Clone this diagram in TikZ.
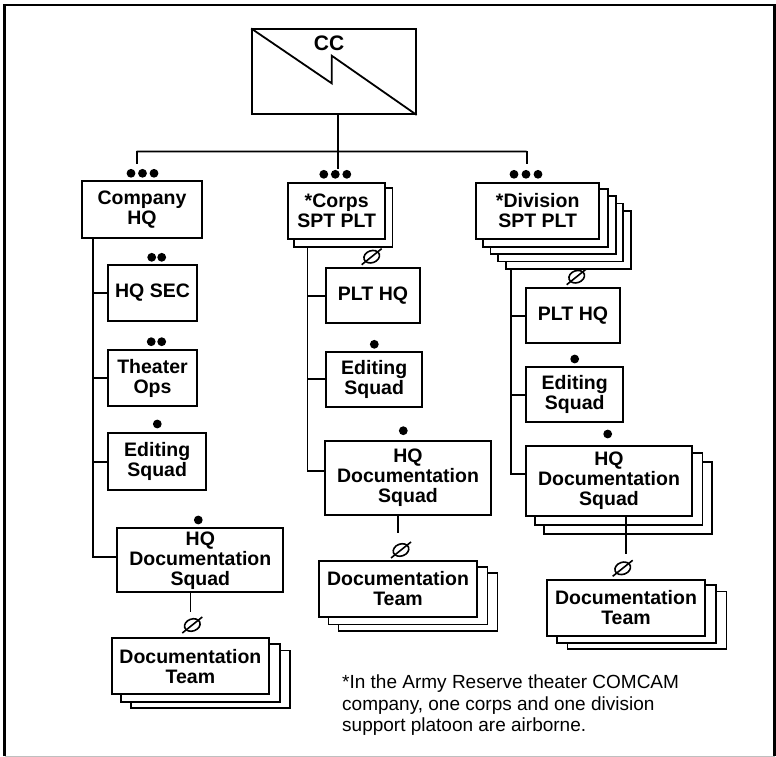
\documentclass[tikz,border=0pt]{standalone}
\usepackage{fontspec}
\setmainfont{Liberation Sans}
\usetikzlibrary{calc}
\pgfdeclarelayer{background}
\pgfsetlayers{background,main}
\newcommand\labelfont{\fontsize{19.5}{20}\selectfont\bfseries}
\tikzset{
  boxline/.style={draw=black, line width=1.8pt},
  unitbox/.style={boxline, fill=white, inner sep=0pt, align=center, font=\labelfont},
  link/.style={draw=black, line width=1.8pt},
  dotmark/.style={fill=black},
}
% #1 node, #2 list of copies (farthest first), #3 dx, #4 dy
\newcommand\stackbehind[4]{%
  \begin{pgfonlayer}{background}
    \foreach \k in {#2}{%
      \draw[boxline, fill=white] ([shift={(\k*#3,\k*#4)}]#1.south west) rectangle ([shift={(\k*#3,\k*#4)}]#1.north east);
    }
  \end{pgfonlayer}}
\newcommand\nullsym[1]{%
  \draw[line width=1.6pt, rotate around={20:#1}] #1 ellipse [x radius=8pt, y radius=6pt];
  \draw[line width=1.6pt] #1 ++(-10,8) -- ++(20,-16);}
\begin{document}
\begin{tikzpicture}[x=1pt, y=-1pt]
\useasboundingbox (0,0) rectangle (776,757);
% frame
\draw[line width=2.5pt] (4.5,756) -- (4.5,5) -- (774.5,5) -- (774.5,756);
\draw[black!25, line width=1pt] (4.5,756) -- (774.5,756);

% top unit
\node[unitbox, minimum width=163.7pt, minimum height=84.7pt] (cc) at (333.9,71.7) {};
\draw[boxline] (cc.north west) -- (331.7,83.3) -- (331.7,55.7) -- (cc.south east);
\node[font=\fontsize{21}{21}\selectfont\bfseries, inner sep=0pt] (cctext) at (329,43) {CC};

% second level
\node[unitbox, minimum width=120pt, minimum height=57pt] (chq) at (142,209.5) {Company\\HQ};
\node[unitbox, minimum width=96.7pt, minimum height=56.6pt] (corps) at (336.7,211) {*Corps\\SPT PLT};
\stackbehind{corps}{1}{6.5}{6.5}
\node[unitbox, minimum width=123.3pt, minimum height=56.3pt] (div) at (537.7,210.9) {*Division\\SPT PLT};
\stackbehind{div}{4,3,2,1}{7.7}{7.2}

% company column
\node[unitbox, minimum width=88.4pt, minimum height=56pt] (csec) at (152.5,293) {HQ SEC};
\node[unitbox, minimum width=88.4pt, minimum height=56pt] (cops) at (152.5,378) {Theater\\Ops};
\node[unitbox, minimum width=97.7pt, minimum height=56.7pt] (cedit) at (157.2,461.7) {Editing\\Squad};
\node[unitbox, minimum width=166pt, minimum height=64pt] (cdoc) at (200.3,560.3) {HQ\\Documentation\\Squad};
\node[unitbox, minimum width=157.3pt, minimum height=56pt] (cteam) at (190.4,666.3) {Documentation\\Team};
\stackbehind{cteam}{2,1}{10}{6.5}

% corps column
\node[unitbox, minimum width=94pt, minimum height=55pt] (kplt) at (373,295.8) {PLT HQ};
\node[unitbox, minimum width=96.3pt, minimum height=55pt] (kedit) at (374.2,379.2) {Editing\\Squad};
\node[unitbox, minimum width=166pt, minimum height=74pt] (kdoc) at (408,478) {HQ\\Documentation\\Squad};
\node[unitbox, minimum width=157.3pt, minimum height=56pt] (kteam) at (398,589) {Documentation\\Team};
\stackbehind{kteam}{2,1}{10}{6.5}

% division column
\node[unitbox, minimum width=94pt, minimum height=55pt] (dplt) at (573,315.8) {PLT HQ};
\node[unitbox, minimum width=97.3pt, minimum height=55pt] (dedit) at (574.7,394.8) {Editing\\Squad};
\node[unitbox, minimum width=166pt, minimum height=70.3pt] (ddoc) at (609,480.9) {HQ\\Documentation\\Squad};
\stackbehind{ddoc}{2,1}{9.5}{8.4}
\node[unitbox, minimum width=157.3pt, minimum height=56pt] (dteam) at (626,608) {Documentation\\Team};
\stackbehind{dteam}{2,1}{10.5}{6.2}

% bus and drops
\coordinate (busL) at ($(chq.north)+(-5.3,-28.7)$);
\coordinate (busR) at ($(div.north)+(-11,-30.4)$);
\coordinate (ccstem) at ($(cc.south)+(4.4,0)$);
\draw[link] (busL) -- (busR);
\draw[link] (busL) -- ++(0,12.7);
\draw[link] (busR) -- ++(0,12.7);
\draw[link] (ccstem) -- ++(0,54);

% company stem
\coordinate (cstem) at ($(chq.south west)+(12,0)$);
\draw[link] (cstem) |- ([yshift=3.6pt]cdoc.west);
\foreach \n in {csec,cops,cedit} \draw[link] (\n.west) -- (\n.west -| cstem);
\draw[link] (cdoc.south -| cteam.north) -- ([yshift=25pt]cteam.north);

% corps stem
\coordinate (kstem) at ($(corps.south west)+(20,6.5)$);
\draw[link] (kstem) |- ([yshift=7.3pt]kdoc.west);
\foreach \n in {kplt,kedit} \draw[link] (\n.west) -- (\n.west -| kstem);
\draw[link] (kdoc.south -| kteam.north) -- ([yshift=27pt]kteam.north);

% division stem
\coordinate (dstem) at ($(div.south west)+(35.7,28.8)$);
\draw[link] (dstem) |- ([yshift=6.6pt]ddoc.west);
\foreach \n in {dplt,dedit} \draw[link] (\n.west) -- (\n.west -| dstem);
\draw[link] (ddoc.south -| dteam.north) -- ([yshift=25pt]dteam.north);

% size marks
\foreach \p in {(131,173.3),(142.5,173.3),(154,173.3),
                (323.8,174.3),(335.3,174.3),(346.8,174.3),
                (514,174.3),(526,174.3),(538,174.3),
                (151.7,257.3),(161.7,257.3),
                (151.2,341.7),(161.7,341.7),
                (157.3,424),(198.3,520),
                (374.3,344.3),(403.3,430.7),
                (574.7,359),(607.7,434)}
  \fill[dotmark] \p circle (4.4pt);

\nullsym{(371.7,256.7)}
\nullsym{(576.7,276.7)}
\nullsym{(192.3,625)}
\nullsym{(401,550)}
\nullsym{(622.7,568.3)}

% footnote
\node[anchor=north west, align=left, inner sep=0pt, font=\fontsize{19}{21.5}\selectfont] (note) at (342,675)
  {*In the Army Reserve theater COMCAM\\company, one corps and one division\\support platoon are airborne.};
\end{tikzpicture}
\end{document}
